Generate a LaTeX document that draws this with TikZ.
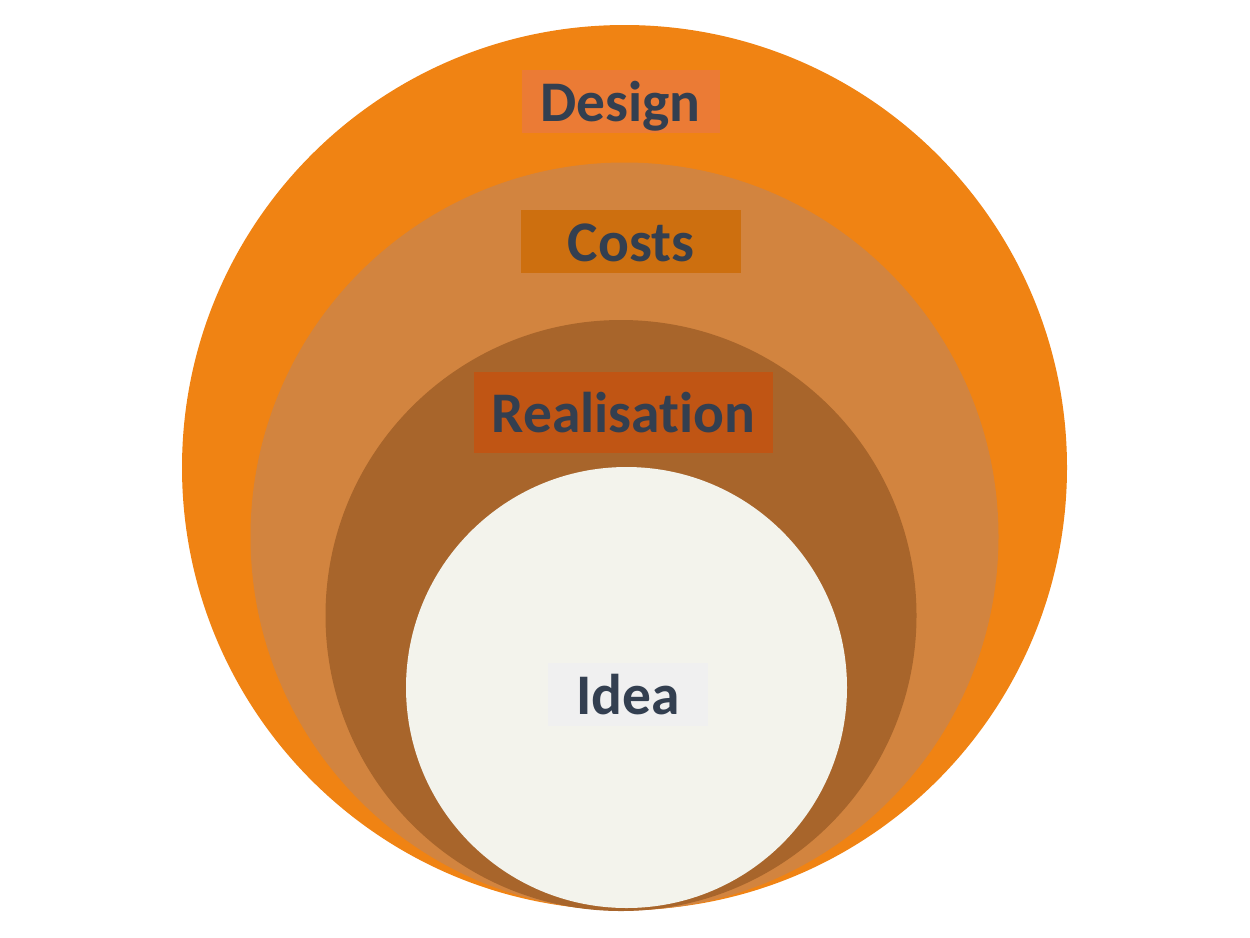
\documentclass[tikz,border=0pt]{standalone}
\usepackage{fontspec}
\setmainfont{Carlito}[Ligatures={NoCommon,NoContextual}]

\definecolor{designring}{HTML}{F08313}
\definecolor{costsring}{HTML}{D2843F}
\definecolor{realring}{HTML}{A8652B}
\definecolor{ideaspot}{HTML}{F3F3EC}
\definecolor{designtag}{HTML}{EB7B35}
\definecolor{coststag}{HTML}{CD6F0F}
\definecolor{realtag}{HTML}{C05514}
\definecolor{ideatag}{HTML}{F0F0F0}
\definecolor{tagtext}{HTML}{333F50}

\begin{document}
\begin{tikzpicture}[
  x=0.02cm, y=-0.02cm,
  tag/.style={inner sep=0pt, text height=22.8pt, text depth=0pt,
    minimum height=0.02cm*63, text=tagtext,
    font=\fontsize{32.7}{36}\selectfont\bfseries}]
  \useasboundingbox (0,0) rectangle (1250,937);

% the four rings, largest first
  \fill[designring] (624.5,467.5) circle (442.5);
  \fill[costsring]  (624.5,536.5) circle (374);
  \fill[realring]   (621,615.5)   circle (295.5);
  \fill[ideaspot]   (626.5,687.5) circle (220.5);

% the labels on their tags
  \node[tag, fill=designtag, minimum width=0.02cm*198] (design) at (620.5,101) {Design};
  \node[tag, fill=coststag, minimum width=0.02cm*220] (costs) at (631,241.5) {Costs};
  \node[tag, fill=realtag, minimum width=0.02cm*299, minimum height=0.02cm*81]
    (realisation) at (623.5,412.5) {Realisation};
  \node[tag, fill=ideatag, minimum width=0.02cm*160] (idea) at (628,694.5) {Idea};
\end{tikzpicture}
\end{document}
